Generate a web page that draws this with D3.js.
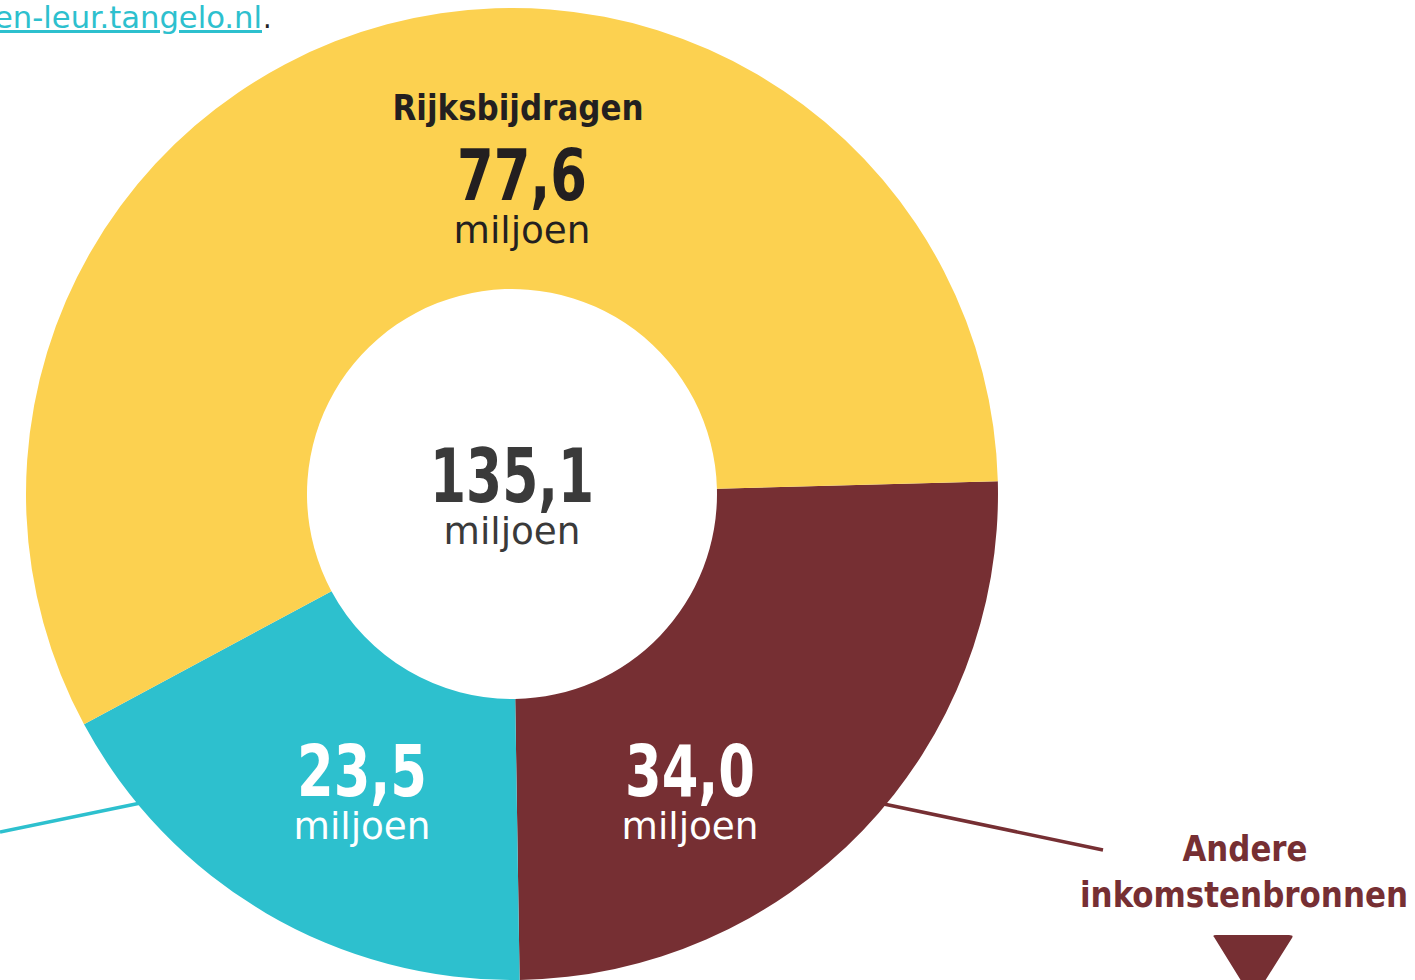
<!DOCTYPE html>
<html>
<head>
<meta charset="utf-8">
<script src="https://cdn.jsdelivr.net/npm/d3@7"></script>
<style>
  html, body { margin: 0; padding: 0; background: #fff; }
  svg { display: block; }
  text { font-family: "DejaVu Sans Condensed", "DejaVu Sans", sans-serif; }
</style>
</head>
<body>
<div id="chart"></div>
<script>
// data
const categories = ["Andere inkomstenbronnen", "Overig", "Rijksbijdragen"];
const values = [34.0, 23.5, 77.6];
const valueLabels = ["34,0", "23,5", "77,6"];
const colors = ["#762f33", "#2dc0ce", "#fcd150"];
const totalLabel = "135,1";
const unit = "miljoen";

let width = 1415, height = 980;
let cx = 512, cy = 494, outerR = 486, innerR = 205;

var svg = d3.select("#chart")
  .append("svg")
  .attr("width", width)
  .attr("height", height);

// link text at top left (cut off by the page edge)
svg.append("text")
  .attr("x", -6).attr("y", 28)
  .style("font-size", "30px")
  .attr("textLength", 268).attr("lengthAdjust", "spacingAndGlyphs")
  .style("fill", "#2dc0ce")
  .style("text-decoration", "underline")
  .text("en-leur.tangelo.nl");
svg.append("text")
  .attr("x", 263).attr("y", 28)
  .style("font-size", "30px")
  .style("fill", "#222")
  .text(".");

// leader lines (behind the donut)
svg.append("line")
  .attr("x1", 860).attr("y1", 799).attr("x2", 1103).attr("y2", 850)
  .attr("stroke", colors[0]).attr("stroke-width", 3.5);
svg.append("line")
  .attr("x1", 0).attr("y1", 832).attr("x2", 160).attr("y2", 799)
  .attr("stroke", colors[1]).attr("stroke-width", 3.5);

let pie = d3.pie()
  .sort(null)
  .startAngle(88.5 * Math.PI / 180)
  .endAngle(88.5 * Math.PI / 180 + 2 * Math.PI);

let arc = d3.arc().innerRadius(innerR).outerRadius(outerR);

var g = svg.append("g").attr("transform", "translate(" + cx + "," + cy + ")");

g.selectAll("path")
  .data(pie(values))
  .enter()
  .append("path")
  .attr("d", arc)
  .attr("fill", (d, i) => colors[i]);

// segment labels: baseline offsets relative to centre
let labelPos = [[178, 302], [-150, 302], [10, -294]];
let labelColor = ["#fff", "#fff", "#231f20"];

labelPos.forEach((p, i) => {
  g.append("text")
    .attr("x", p[0]).attr("y", p[1])
    .attr("text-anchor", "middle")
    .style("font-size", "72px").style("font-weight", "bold")
    .attr("textLength", 130).attr("lengthAdjust", "spacingAndGlyphs")
    .style("fill", labelColor[i])
    .text(valueLabels[i]);
  g.append("text")
    .attr("x", p[0]).attr("y", p[1] + 43)
    .attr("text-anchor", "middle")
    .style("font-size", "38px")
    .attr("textLength", 137).attr("lengthAdjust", "spacingAndGlyphs")
    .style("fill", labelColor[i])
    .text(unit);
});

g.append("text")
  .attr("x", 6).attr("y", -374)
  .attr("text-anchor", "middle")
  .style("font-size", "35px").style("font-weight", "bold")
  .attr("textLength", 251).attr("lengthAdjust", "spacingAndGlyphs")
  .style("fill", "#231f20")
  .text(categories[2]);

// centre total
g.append("text")
  .attr("x", 0).attr("y", 8)
  .attr("text-anchor", "middle")
  .style("font-size", "74px").style("font-weight", "bold")
  .attr("textLength", 164).attr("lengthAdjust", "spacingAndGlyphs")
  .style("fill", "#3a3a3a")
  .text(totalLabel);
g.append("text")
  .attr("x", 0).attr("y", 50)
  .attr("text-anchor", "middle")
  .style("font-size", "38px")
  .attr("textLength", 137).attr("lengthAdjust", "spacingAndGlyphs")
  .style("fill", "#3a3a3a")
  .text(unit);

// right side label
svg.append("text")
  .attr("x", 1245).attr("y", 861)
  .attr("text-anchor", "middle")
  .style("font-size", "36px").style("font-weight", "bold")
  .attr("textLength", 125).attr("lengthAdjust", "spacingAndGlyphs")
  .style("fill", colors[0])
  .text("Andere");
svg.append("text")
  .attr("x", 1244).attr("y", 907)
  .attr("text-anchor", "middle")
  .style("font-size", "36px").style("font-weight", "bold")
  .attr("textLength", 328).attr("lengthAdjust", "spacingAndGlyphs")
  .style("fill", colors[0])
  .text("inkomstenbronnen");

svg.append("path")
  .attr("d", "M1214,937 Q1212,935 1216,935 L1289,935 Q1294,935 1292,938 L1253,1000 Z")
  .attr("fill", colors[0]);
</script>
</body>
</html>
